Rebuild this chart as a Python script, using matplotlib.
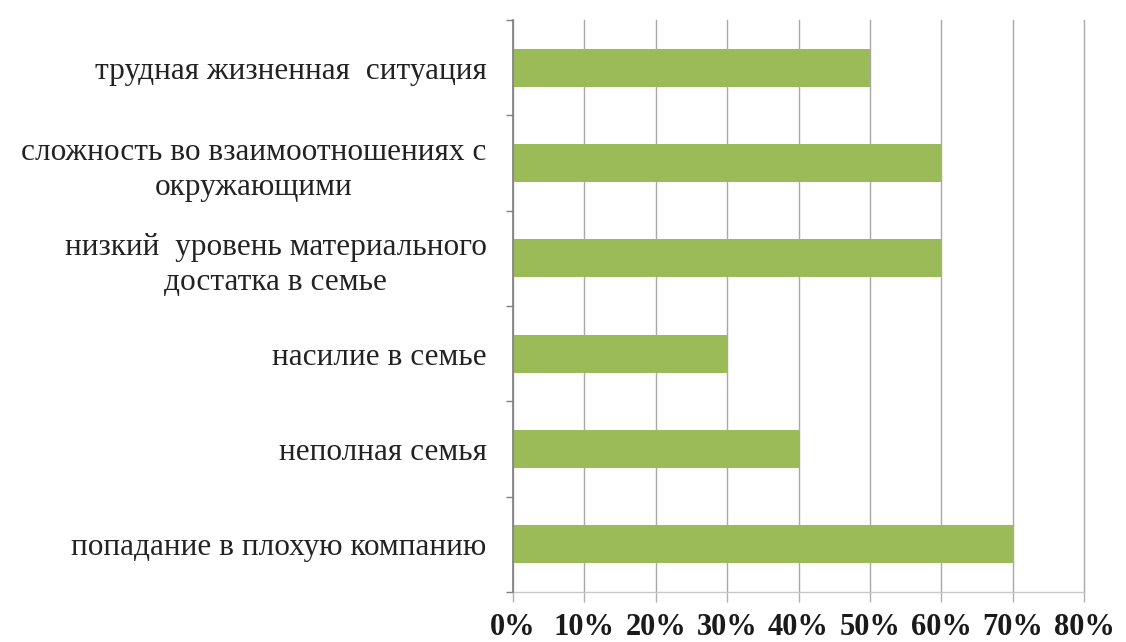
import matplotlib
matplotlib.use("Agg")
import matplotlib.pyplot as plt
from matplotlib.ticker import PercentFormatter

categories = [
    "попадание в плохую компанию",
    "неполная семья",
    "насилие в семье",
    "низкий  уровень материального\nдостатка в семье",
    "сложность во взаимоотношениях с\nокружающими",
    "трудная жизненная  ситуация",
]
values = [70, 40, 30, 60, 60, 50]
xticks = [0, 10, 20, 30, 40, 50, 60, 70, 80]

plt.rcParams['font.family'] = ['Liberation Serif', 'DejaVu Serif']

fig = plt.figure(figsize=(11.26, 6.42), dpi=100)
ax = fig.add_axes([0.4556, 1 - 592 / 642, 0.9627 - 0.4556, (592 - 20) / 642])

pos = list(range(len(categories)))
ax.barh(pos, values, height=0.4, color='#9BBB59', zorder=3)
ax.set_ylim(-0.5, len(categories) - 0.5)
ax.set_xlim(0, 80)
ax.set_xticks(xticks)
ax.xaxis.set_major_formatter(PercentFormatter(decimals=0))
ax.set_yticks([p + 0.5 for p in pos[:-1]] + [-0.5, len(categories) - 0.5])
ax.set_yticklabels([])
ax.set_yticks(pos, minor=True)
ax.set_yticklabels(categories, minor=True, fontsize=22.5, multialignment='center',
                   linespacing=1.3, color='#222222')
ax.tick_params(axis='y', which='minor', length=0, pad=19)
ax.tick_params(axis='y', which='major', length=5, color='#808080', width=1)
ax.tick_params(axis='x', length=7, color='#B0B0B0', width=1, pad=8)
for lab in ax.get_xticklabels():
    lab.set_fontsize(22)
    lab.set_fontweight('bold')
    lab.set_color('#1a1a1a')

ax.grid(axis='x', color='#A8A8A8', linewidth=1, zorder=0)
for line in ax.get_xgridlines():
    line.set_clip_on(False)
for s in ['top', 'right']:
    ax.spines[s].set_visible(False)
ax.spines['left'].set_color('#7F7F7F')
ax.spines['left'].set_linewidth(1.2)
ax.spines['left'].set_zorder(4)
ax.spines['bottom'].set_color('#C8C8C8')
ax.spines['bottom'].set_linewidth(1)

fig.savefig('out.png', dpi=100, facecolor='white')
